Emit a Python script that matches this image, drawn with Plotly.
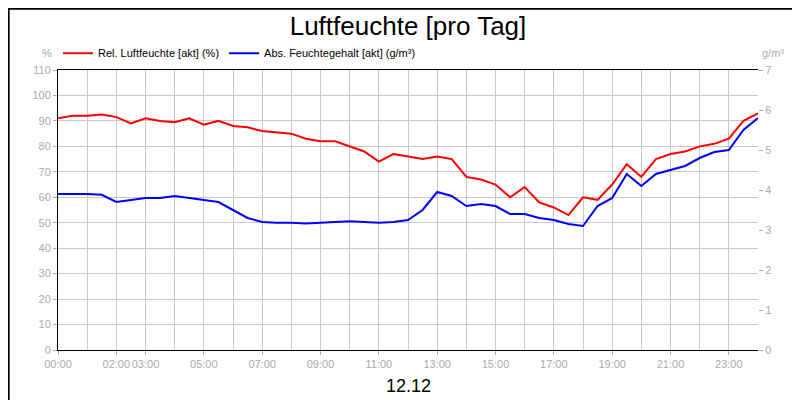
import plotly.graph_objects as go
import pandas as pd

# half-hour samples, 12.12
times = pd.date_range("2023-12-12 00:00", "2023-12-13 00:00", freq="30min")

rel_humidity = [91, 92, 92, 92.5, 91.5, 89, 91, 90, 89.5, 91, 88.5, 90, 88, 87.5,
                86, 85.5, 85, 83, 82, 82, 80, 78, 74, 77, 76, 75, 76, 75, 68, 67,
                65, 60, 64, 58, 56, 53, 60, 59, 65, 73, 68, 75, 77, 78, 80, 81,
                83, 90, 93]

abs_humidity = [3.9, 3.9, 3.9, 3.88, 3.7, 3.75, 3.8, 3.8, 3.85, 3.8, 3.75, 3.7,
                3.5, 3.3, 3.2, 3.18, 3.18, 3.16, 3.18, 3.2, 3.22, 3.2, 3.18, 3.2,
                3.25, 3.5, 3.95, 3.85, 3.6, 3.65, 3.6, 3.4, 3.4, 3.3, 3.25, 3.15,
                3.1, 3.6, 3.8, 4.4, 4.1, 4.4, 4.5, 4.6, 4.8, 4.95, 5.0, 5.5, 5.8]

tick_hours = [0, 2, 3, 5, 7, 9, 11, 13, 15, 17, 19, 21, 23]
tick_labels = [f"{h:02d}:00" for h in tick_hours]
tick_vals = [pd.Timestamp("2023-12-12") + pd.Timedelta(hours=h) for h in tick_hours]

fig = go.Figure()
fig.add_trace(go.Scatter(x=times, y=rel_humidity, name="Rel. Luftfeuchte [akt] (%)",
                         line=dict(color="#ff0000", width=2)))
fig.add_trace(go.Scatter(x=times, y=abs_humidity, name="Abs. Feuchtegehalt [akt] (g/m³)",
                         line=dict(color="#0000ff", width=2), yaxis="y2"))

grey = "#aaaaaa"
fig.update_layout(
    width=800, height=400,
    margin=dict(l=50, r=50, t=62, b=58, autoexpand=False),
    paper_bgcolor="white", plot_bgcolor="white",
    font=dict(family="Liberation Sans, Arial", size=11, color=grey),
    title=dict(text="Luftfeuchte [pro Tag]", x=0.5, y=0.955, xanchor="center",
               yanchor="middle", font=dict(size=26, color="black")),
    showlegend=True,
    legend=dict(orientation="h", x=0.0, y=1.06, xanchor="left", yanchor="middle",
                font=dict(size=11, color="black"), itemwidth=30,
                bgcolor="rgba(0,0,0,0)"),
    xaxis=dict(range=[times[0], times[-1]], tickvals=tick_vals, ticktext=tick_labels,
               tickangle=0, showgrid=False, ticks="outside", ticklen=4, tickcolor=grey,
               showline=True, linecolor="black", mirror=True,
               minor=dict(dtick=3600000, showgrid=True, gridcolor="#c8c8c8"),
               tickfont=dict(size=11, color=grey)),
    yaxis=dict(range=[0, 110], dtick=10, gridcolor="#c8c8c8", ticks="outside",
               ticklen=4, tickcolor=grey, showline=True, linecolor="black",
               zeroline=False),
    yaxis2=dict(range=[0, 7], dtick=1, overlaying="y", side="right", showgrid=False,
                ticks="outside", ticklen=4, tickcolor=grey, zeroline=False),
    annotations=[
        dict(text="%", x=0, y=1.06, xref="paper", yref="paper", xanchor="right",
             yanchor="middle", xshift=-4, showarrow=False),
        dict(text="g/m³", x=1, y=1.06, xref="paper", yref="paper", xanchor="left",
             yanchor="middle", xshift=2, showarrow=False),
        dict(text="12.12", x=0.5, y=-0.129, xref="paper", yref="paper", showarrow=False,
             yanchor="middle", font=dict(size=18, color="black")),
    ],
    shapes=[dict(type="rect", xref="paper", yref="paper", x0=-0.0705, x1=1.0705,
                 y0=-0.205, y1=1.219, line=dict(color="black", width=2))],
)

fig.write_html("out.html")
